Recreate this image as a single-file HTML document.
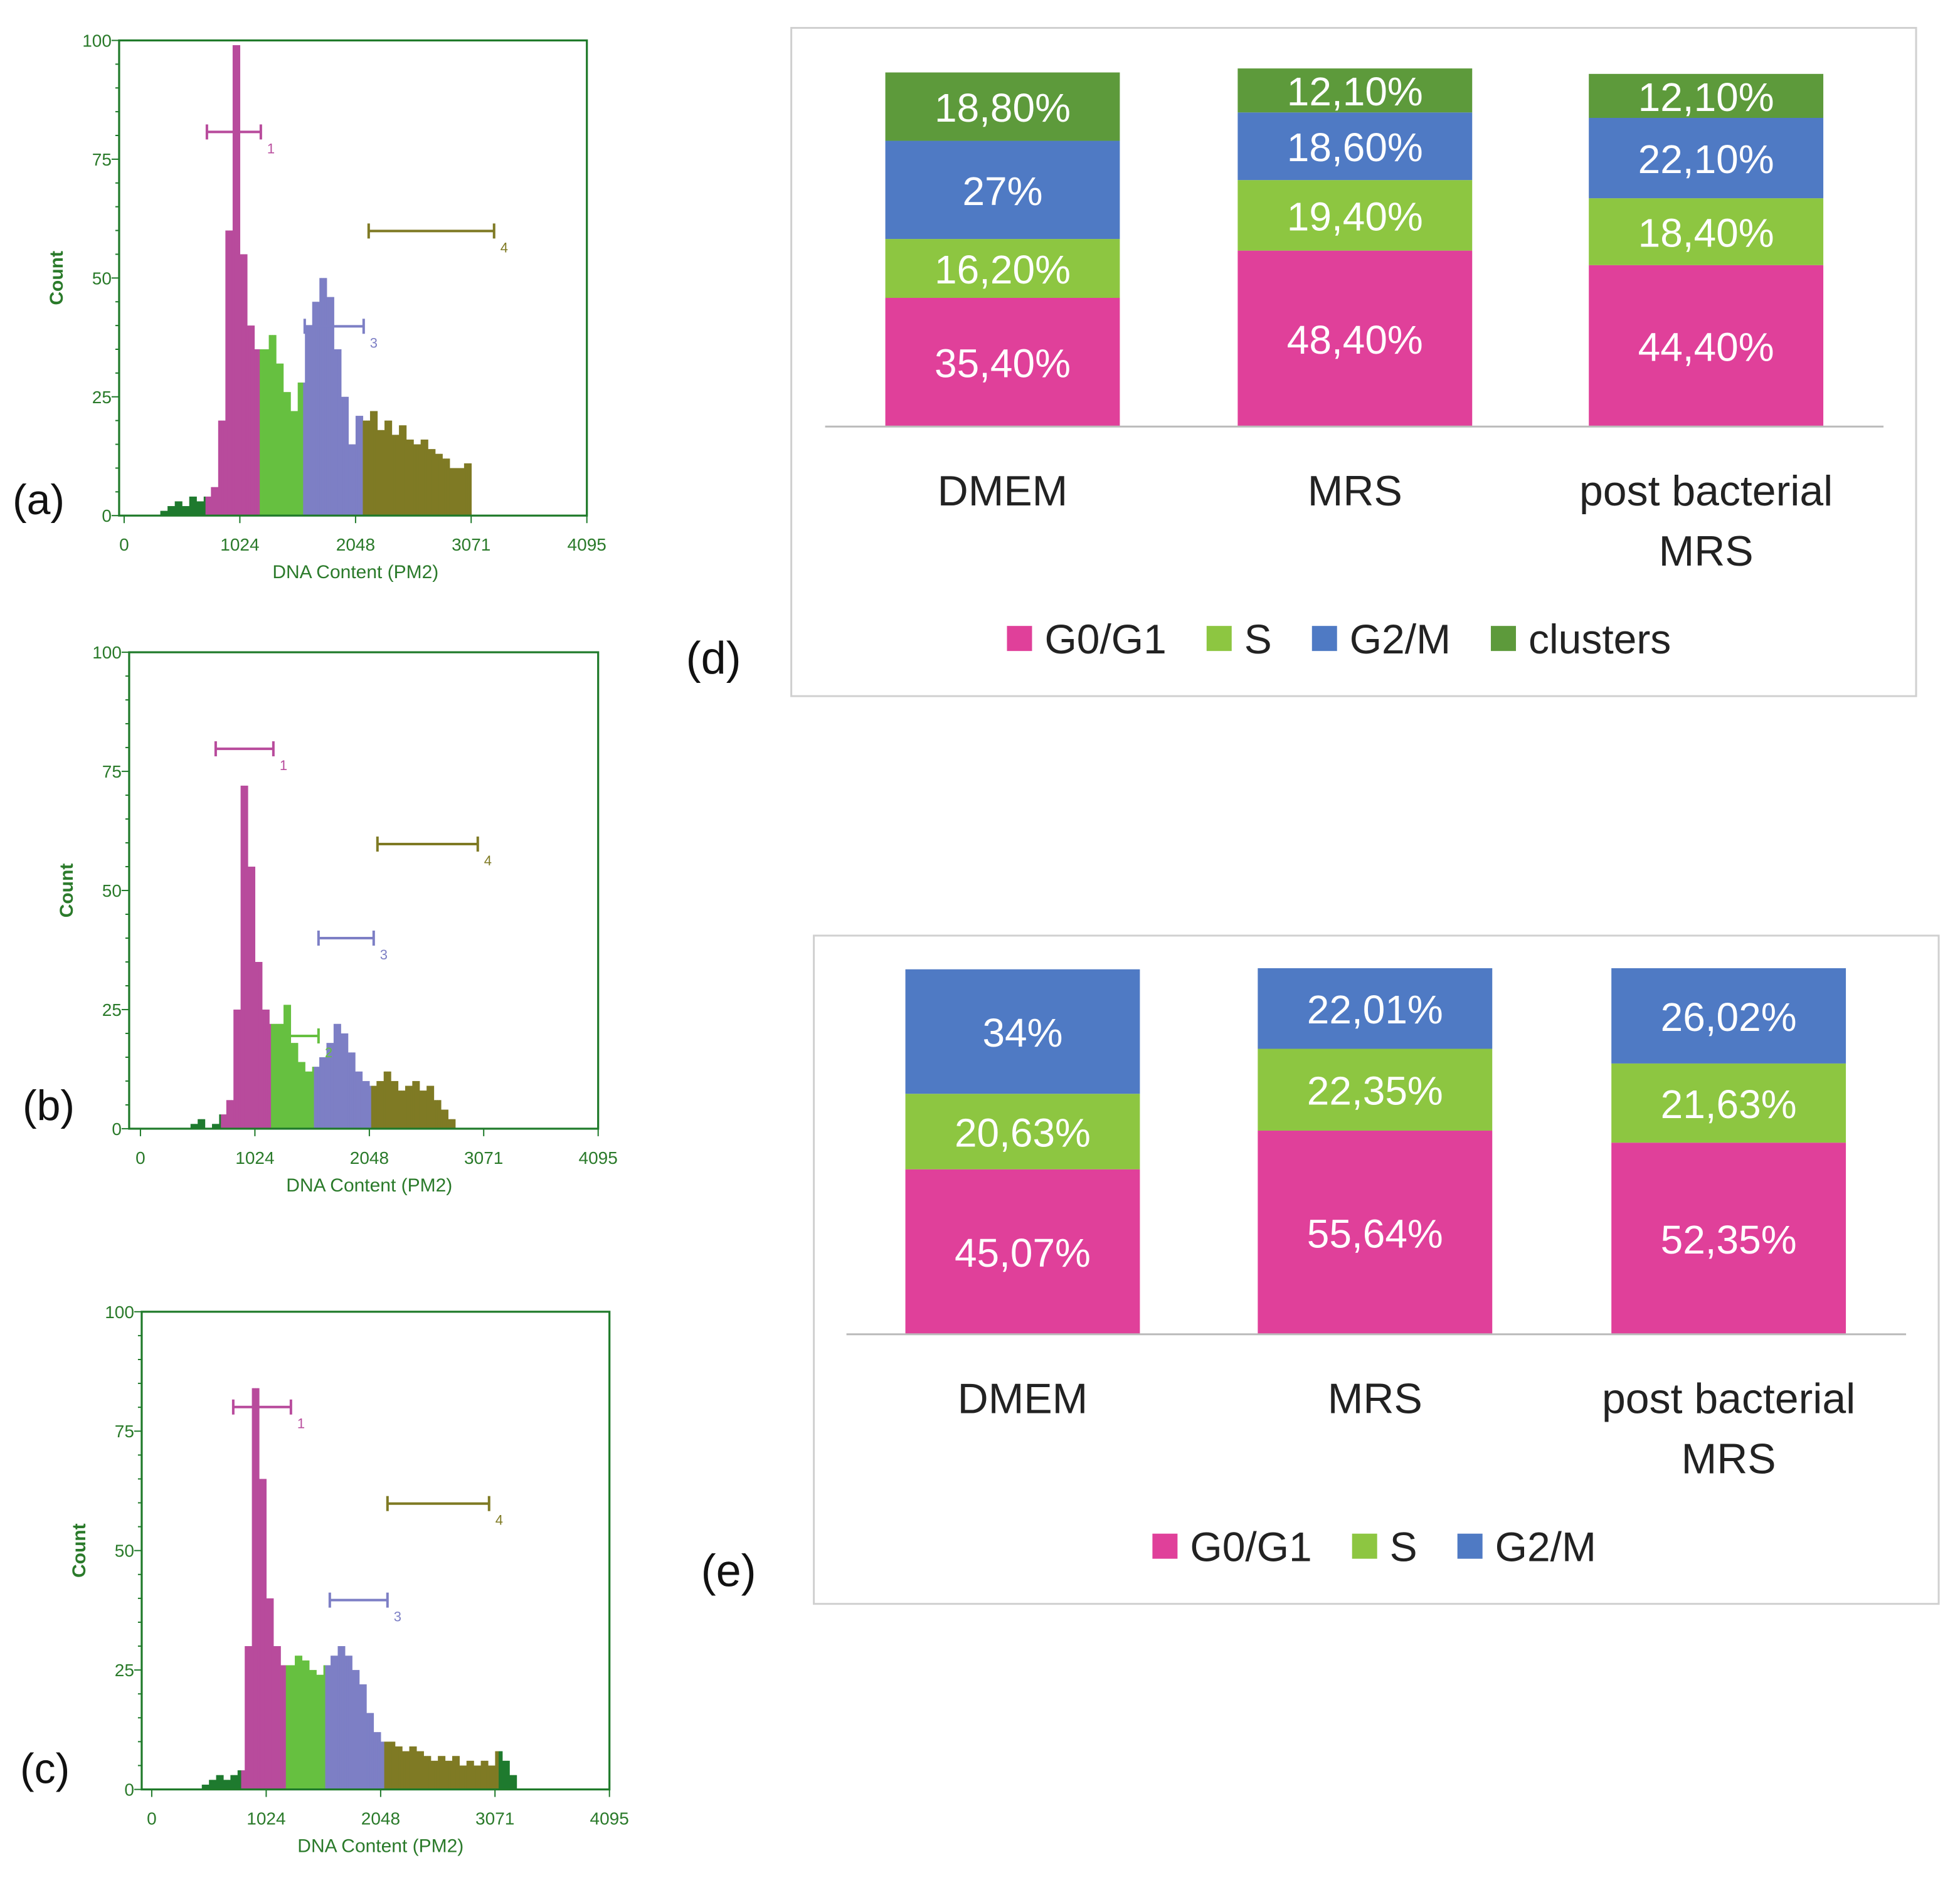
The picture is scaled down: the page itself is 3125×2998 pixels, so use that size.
<!DOCTYPE html>
<html><head><meta charset="utf-8"><style>
html,body{margin:0;padding:0;background:#fff;}
svg{display:block;}
text{font-family:"Liberation Sans",sans-serif;}
</style></head><body>
<svg id="s" width="3125" height="2998" viewBox="0 0 1563 1499" xmlns="http://www.w3.org/2000/svg">
<rect width="1563" height="1499" fill="#fff"/>
</svg>
<script>
// Histogram counts, 64-channel bins starting at channel 0
const histA=[0,0,0,0,0,1,2,3,2,4,3,4,6,20,60,99,55,40,35,35,38,32,26,22,28,40,45,50,46,35,25,15,21,20,22,18,20,17,19,16,15,16,14,13,12,10,10,11,0,0];
const histB=[0,0,0,0,0,0,0,1,2,0,1,3,6,25,72,55,35,25,22,22,26,18,14,12,13,15,18,22,20,16,12,10,9,10,12,10,8,9,10,8,9,6,4,2,0,0,0,0,0,0];
const histC=[0,0,0,0,0,0,0,1,2,3,2,3,4,30,84,65,40,30,26,26,28,27,25,24,26,28,30,28,25,22,16,12,10,10,9,8,9,8,7,6,7,6,7,5,6,5,6,5,8,6,3,0];
// gate boundaries (channels): magenta, S, G2, olive start, olive end
const gatesA=[724,1193,1578,2110,3071];
const gatesB=[720,1170,1560,2060,2950];
const gatesC=[800,1200,1560,2080,3100];
const yTicks=[0,25,50,75,100];
const xTicks=[0,1024,2048,3071,4095];
// stacked bars
const cats=["DMEM","MRS","post bacterial"];
const d_g0=[35.4,48.4,44.4], d_s=[16.2,19.4,18.4], d_g2=[27,18.6,22.1], d_cl=[18.8,12.1,12.1];
const d_lab_g0=["35,40%","48,40%","44,40%"], d_lab_s=["16,20%","19,40%","18,40%"], d_lab_g2=["27%","18,60%","22,10%"], d_lab_cl=["18,80%","12,10%","12,10%"];
const e_g0=[45.07,55.64,52.35], e_s=[20.63,22.35,21.63], e_g2=[34,22.01,26.02];
const e_lab_g0=["45,07%","55,64%","52,35%"], e_lab_s=["20,63%","22,35%","21,63%"], e_lab_g2=["34%","22,01%","26,02%"];

const NS="http://www.w3.org/2000/svg", S=document.getElementById('s');
function mk(t,a,p){const e=document.createElementNS(NS,t);for(const k in a)e.setAttribute(k,a[k]);(p||S).appendChild(e);return e;}
function txt(x,y,s,a,p){const e=mk('text',Object.assign({x:x,y:y},a),p);e.textContent=s;return e;}

function hist(id,H,G,bx0,by0,bx1,by1,x0,x4095,label,lx,ly,markers){
  const g=mk('g',{});
  
  
  const X=c=>x0+c/4095*(x4095-x0), Y=v=>by1-v/100*(by1-by0);
  const col=c=>c<G[0]?'#1e7a2e':c<G[1]?'#b84b9c':c<G[2]?'#66c040':c<G[3]?'#7d7fc5':c<G[4]?'#7f7a24':'#1e7a2e';
  H.forEach((v,i)=>{ if(v<=0)return;
    const c0=i*64;
    for(let k=0;k<4;k++){const a=c0+k*16,b=a+16;
      const r=mk('rect',{x:X(a),y:Y(v),width:X(b)-X(a)+0.3,height:Y(0)-Y(v),fill:col(a+8)},g);
      
      }
  });
  const box=mk('rect',{x:bx0,y:by0,width:bx1-bx0,height:by1-by0,fill:'none',stroke:'#1f7a2a','stroke-width':1.6},g);
  
  
  for(let v=0;v<=100;v+=5){mk('line',{x1:bx0-(v%25?3:6),x2:bx0,y1:Y(v),y2:Y(v),stroke:'#1f7a2a','stroke-width':1},g);}
  yTicks.forEach(v=>{const t=txt(bx0-6,Y(v)+5,String(v),{'font-size':14,fill:'#2a7a2a','text-anchor':'end'},g);
    });
  xTicks.forEach(v=>{mk('line',{x1:X(v),x2:X(v),y1:by1,y2:by1+6,stroke:'#1f7a2a'},g);
    const t=txt(X(v),by1+28,String(v),{'font-size':14,fill:'#2a7a2a','text-anchor':'middle'},g);
    });
  const xt=txt((x0+x4095)/2,by1+50,'DNA Content (PM2)',{'font-size':15,fill:'#2a7a2a','text-anchor':'middle'},g);
  
  const yt=txt(0,0,'Count',{'font-size':15,'font-weight':'bold',fill:'#2a7a2a','text-anchor':'middle',transform:`translate(${bx0-45},${(by0+by1)/2}) rotate(-90)`},g);
  
  const pl=txt(lx,ly,label,{'font-size':34,fill:'#111'},g);
  
  markers.forEach(m=>{const [x1,x2,y,c,n]=m;
    const mg=mk('g',{stroke:c,'stroke-width':2},g);
    
    
    mk('line',{x1:x1,x2:x2,y1:y,y2:y},mg);mk('line',{x1:x1,x2:x1,y1:y-6,y2:y+6},mg);mk('line',{x1:x2,x2:x2,y1:y-6,y2:y+6},mg);
    txt(x2+5,y+17,n,{'font-size':11,fill:c,stroke:'none'},mg);});
}
hist('a',histA,gatesA,95,32,468,411,99,468,'(a)',10,410,[[165,208,105,'#b84b9c','1'],[243,290,260,'#7d7fc5','3'],[294,394,184,'#7f7a24','4']]);
hist('b',histB,gatesB,103,520,477,900,112,477,'(b)',18,893,[[172,218,597,'#b84b9c','1'],[301,381,673,'#7f7a24','4'],[254,298,748,'#7d7fc5','3'],[220,254,826,'#66c040','2']]);
hist('c',histC,gatesC,113,1046,486,1427,121,486,'(c)',16,1422,[[186,232,1122,'#b84b9c','1'],[309,390,1199,'#7f7a24','4'],[263,309,1276,'#7d7fc5','3']]);

function bars(id,bx,by,bw,bh,base,lineX0,lineX1,barX,barW,scale,series,labels,colors,names,legY,legX,plabel,plx,ply){
  const g=mk('g',{});
  
  
  const fr=mk('rect',{x:bx,y:by,width:bw,height:bh,fill:'#fff',stroke:'#d0d0d0','stroke-width':1.5},g);
  
  const H=v=>v*scale;
  cats.forEach((c,i)=>{let y=base;
    series.forEach((s,k)=>{const h=H(s[i]);y-=h;
      const r=mk('rect',{x:barX[i],y:y,width:barW,height:h,fill:colors[k]},g);
      
      
      const t=txt(barX[i]+barW/2,y+h/2+12,labels[k][i],{'font-size':32,fill:'#fff','text-anchor':'middle'},g);
      });
    const cl=txt(barX[i]+barW/2,base+63,c,{'font-size':34,fill:'#222','text-anchor':'middle'},g);
    
    if(i==2){const c2=txt(barX[i]+barW/2,base+111,'MRS',{'font-size':34,fill:'#222','text-anchor':'middle'},g);
      }
  });
  const ax=mk('line',{x1:lineX0,x2:lineX1,y1:base,y2:base,stroke:'#bbb','stroke-width':1.5},g);
  
  let lx=legX;
  names.forEach((n,k)=>{const le=mk('g',{},g);
    
    mk('rect',{x:lx,y:legY-11,width:20,height:20,fill:colors[k]},le);
    const t=txt(lx+30,legY+11,n,{'font-size':33,fill:'#222'},le);
    lx+=30+t.getComputedTextLength()+32;});
  const p=txt(plx,ply,plabel,{'font-size':36,fill:'#111'},g);
  
}
bars('d',631,22,897,533,340,658,1502,[706,987,1267],187,2.9,[d_g0,d_s,d_g2,d_cl],[d_lab_g0,d_lab_s,d_lab_g2,d_lab_cl],['#e0409a','#8dc641','#4f7ac4','#5d9a3b'],['G0/G1','S','G2/M','clusters'],510,803,'(d)',547,537);
bars('e',649,746,897,533,1064,675,1520,[722,1003,1285],187,2.92,[e_g0,e_s,e_g2],[e_lab_g0,e_lab_s,e_lab_g2],['#e0409a','#8dc641','#4f7ac4'],['G0/G1','S','G2/M'],1234,919,'(e)',559,1265);
</script>
</body></html>
